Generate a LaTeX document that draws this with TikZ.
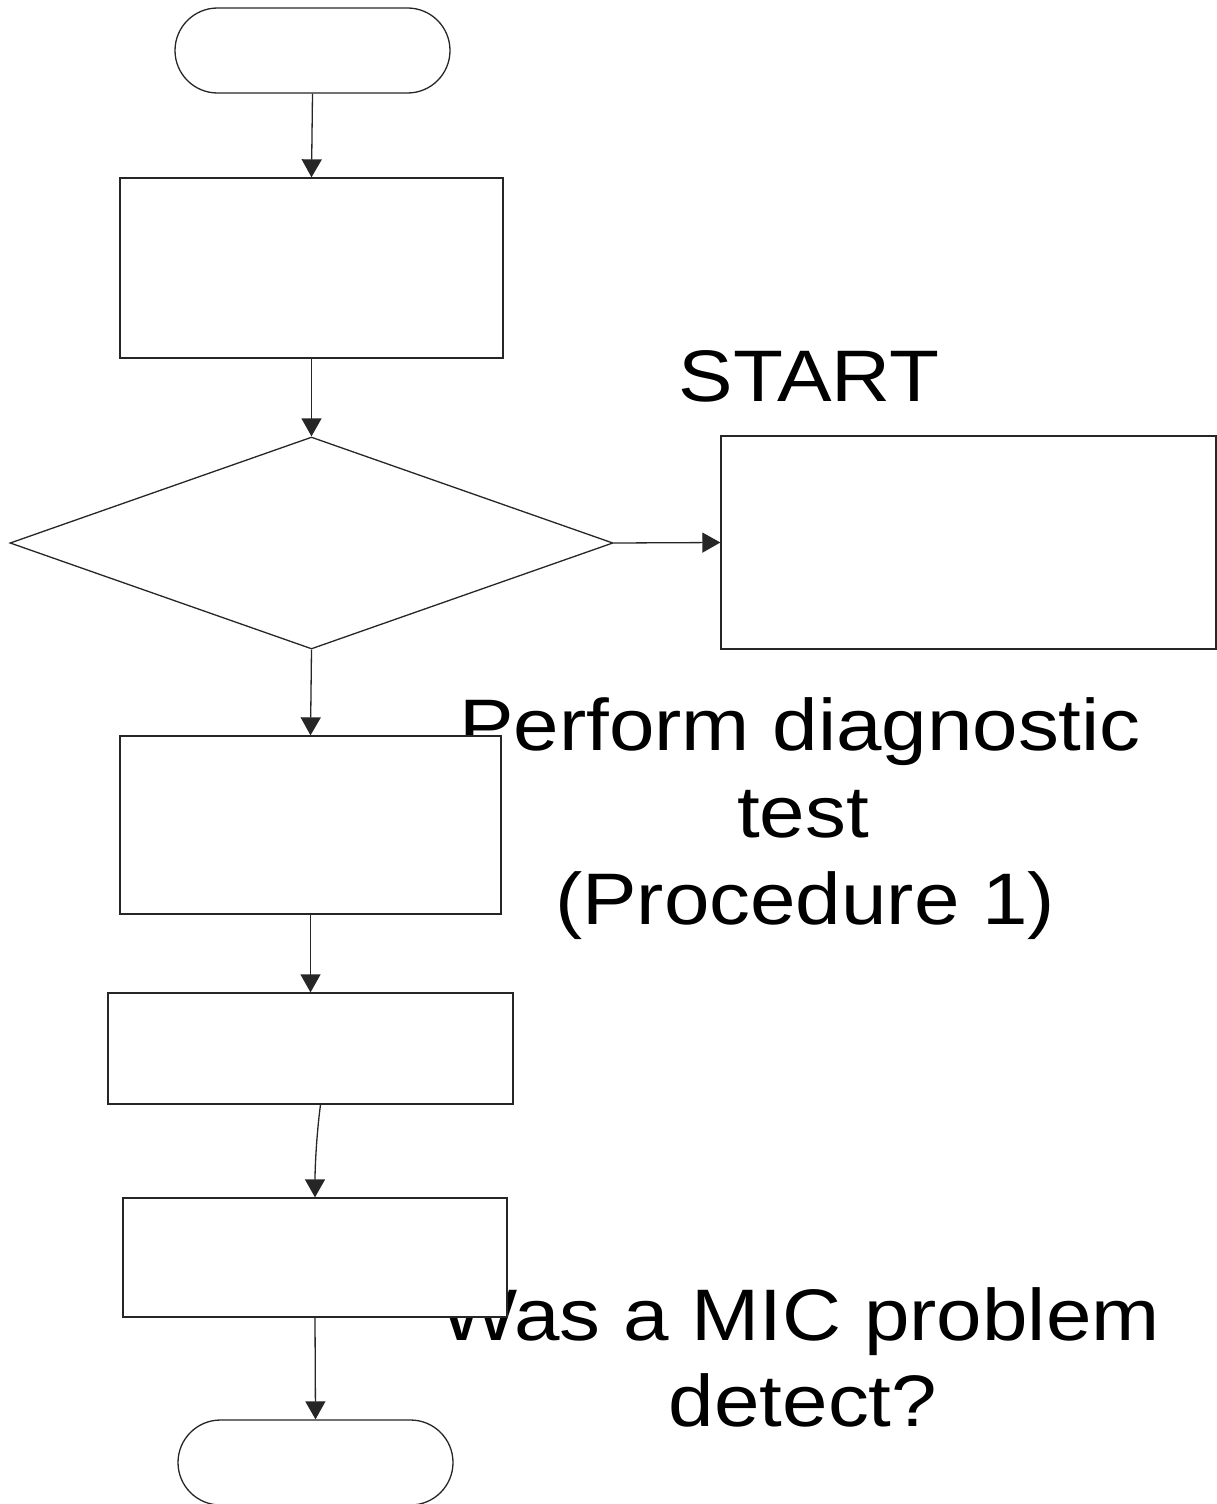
\documentclass[tikz,border=0pt]{standalone}
\usepackage{fontspec}
\setmainfont{Liberation Sans}
\newfontfamily\lblfont[FakeStretch=1.12]{Liberation Sans}
\usetikzlibrary{shapes.geometric,shapes.misc,arrows.meta}
\begin{document}
\begin{tikzpicture}[x=0.5pt,y=-0.5pt,
  shp/.style={draw=black!85,line width=0.65pt,fill=white,inner sep=0pt},
  boxn/.style={shp,rectangle},
  term/.style={shp,rounded rectangle},
  dia/.style={shp,diamond},
  arr/.style={draw=black!85,line width=0.65pt,-{Triangle[length=9pt,width=10pt]}},
  lbl/.style={anchor=base,inner sep=0pt,font=\lblfont\fontsize{36.5pt}{43.5pt}\selectfont}]
\useasboundingbox (0,0) rectangle (1216,1504);
% texts (drawn under the shapes)
\node[lbl] (tstart) at (809,401) {START};
\node[lbl] (tperf1) at (800,750) {Perform diagnostic};
\node[lbl] (tperf2) at (803,837) {test};
\node[lbl] (tperf3) at (805,924) {(Procedure 1)};
\node[lbl] (twas1) at (800,1340) {Was a MIC problem};
\node[lbl] (twas2) at (803,1426) {detect?};
% shapes
\node[term,minimum width=137.5pt,minimum height=42.5pt] (start) at (312.5,50.5) {};
\node[boxn,minimum width=191.5pt,minimum height=90pt] (box1) at (311.5,268) {};
\node[dia,minimum width=301.5pt,minimum height=106pt] (dec) at (311.5,543) {};
\node[boxn,minimum width=247.5pt,minimum height=106.5pt] (boxr) at (968.5,542.5) {};
\node[boxn,minimum width=190.5pt,minimum height=89pt] (box2) at (310.5,825) {};
\node[boxn,minimum width=202.5pt,minimum height=55.5pt] (box3) at (310.5,1048.5) {};
\node[boxn,minimum width=192pt,minimum height=59.5pt] (box4) at (315,1257.5) {};
\node[term,minimum width=137.5pt,minimum height=42.5pt] (stop) at (315.5,1462.5) {};
% connectors
\draw[arr] (start.south) -- (box1.north);
\draw[arr] (box1.south) -- (dec.north);
\draw[arr] (dec.east) -- (boxr.west);
\draw[arr] (dec.south) -- (box2.north);
\draw[arr] (box2.south) -- (box3.north);
\draw[arr] ([xshift=5]box3.south) .. controls +(-4,30) and +(0,-30) .. (box4.north);
\draw[arr] (box4.south) -- (stop.north);
\end{tikzpicture}
\end{document}
